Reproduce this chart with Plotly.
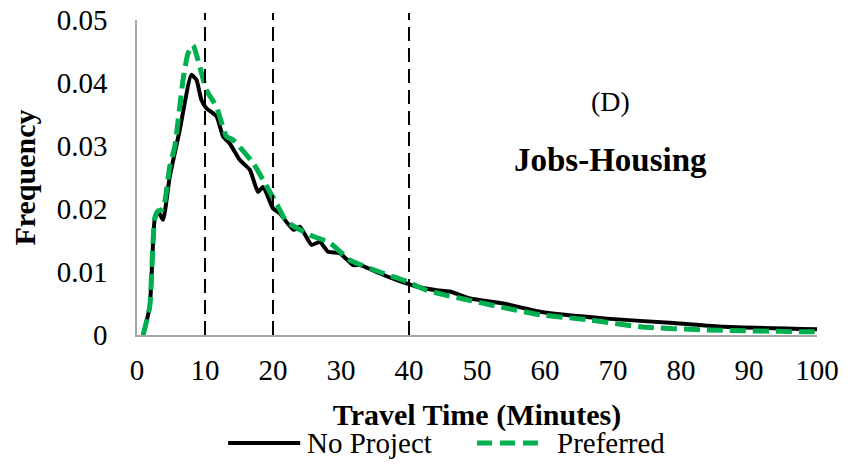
import plotly.graph_objects as go

# Travel time (minutes) and frequency, No Project
np_x = [0.9, 1.87, 2.6, 3.1, 3.83, 4.81, 6.28, 8.0, 8.74, 9.48, 10.2, 11.7, 12.66, 13.64,
        15.1, 16.6, 17.8, 18.55, 20.0, 21.0, 23.0, 23.95, 25.67, 26.9, 28.1, 29.8, 31.8,
        32.8, 35.2, 38.2, 39.65, 41.1, 44.1, 46.0, 49.0, 53.9, 59.3, 69.1, 78.9, 86.3, 100]
np_y = [0.0, 0.0045, 0.0183, 0.0196, 0.0183, 0.0251, 0.0325, 0.0413, 0.0405, 0.0373, 0.036,
        0.0347, 0.0315, 0.0304, 0.0278, 0.0262, 0.0227, 0.0235, 0.0201, 0.0193, 0.0167,
        0.0172, 0.0143, 0.0148, 0.0132, 0.013, 0.0111, 0.0111, 0.01, 0.0087, 0.0082,
        0.0077, 0.0071, 0.0069, 0.0058, 0.005, 0.0037, 0.0026, 0.0019, 0.0013, 0.0009]

# Preferred
pr_x = [0.9, 1.87, 2.6, 3.1, 3.83, 4.81, 5.55, 6.77, 7.5, 8.24, 9.23, 10.2, 11.7, 13.16,
        14.1, 17.07, 18.55, 20.5, 22.0, 25.4, 28.4, 31.3, 36.2, 39.65, 42.6, 45.5, 48.5,
        51.9, 59.3, 66.6, 74.0, 83.8, 98.5, 100]
pr_y = [0.0, 0.0045, 0.0185, 0.0197, 0.02, 0.0267, 0.0299, 0.0405, 0.0447, 0.046, 0.0426,
        0.0389, 0.0362, 0.0315, 0.031, 0.0273, 0.0246, 0.0209, 0.018, 0.0159, 0.0146,
        0.0119, 0.0098, 0.0085, 0.0071, 0.0063, 0.0056, 0.0048, 0.0032, 0.0024, 0.0013,
        0.0008, 0.0005, 0.0005]

thresholds = [10, 20, 40]
x_ticks = [0, 10, 20, 30, 40, 50, 60, 70, 80, 90, 100]
y_ticks = [0, 0.01, 0.02, 0.03, 0.04, 0.05]
y_ticktext = ["0", "0.01", "0.02", "0.03", "0.04", "0.05"]

FONT = "Liberation Serif"
GREEN = "#00B050"

fig = go.Figure()
fig.add_trace(go.Scatter(x=np_x, y=np_y, mode="lines", name="No Project",
                         line=dict(color="black", width=4, shape="spline", smoothing=0.5),
                         cliponaxis=False, showlegend=False))
fig.add_trace(go.Scatter(x=pr_x, y=pr_y, mode="lines", name="Preferred",
                         line=dict(color=GREEN, width=5, dash="16px,7px", shape="spline", smoothing=0.5),
                         cliponaxis=False, showlegend=False))

for t in thresholds:
    fig.add_shape(type="line", xref="x", yref="paper", x0=t, x1=t, y0=0, y1=1.022,
                  line=dict(color="black", width=2, dash="14px,7px"))

# manual legend
LEG_Y = -0.343
fig.add_shape(type="line", xref="paper", yref="paper", x0=0.134, x1=0.24, y0=LEG_Y, y1=LEG_Y,
              line=dict(color="black", width=4))
fig.add_shape(type="line", xref="paper", yref="paper", x0=0.50, x1=0.593, y0=LEG_Y, y1=LEG_Y,
              line=dict(color=GREEN, width=5, dash="15px,8px"))
fig.add_annotation(text="No Project", xref="paper", yref="paper", x=0.247, y=LEG_Y,
                   xanchor="left", yanchor="middle", showarrow=False,
                   font=dict(family=FONT, size=29, color="black"))
fig.add_annotation(text="Preferred", xref="paper", yref="paper", x=0.615, y=LEG_Y,
                   xanchor="left", yanchor="middle", showarrow=False,
                   font=dict(family=FONT, size=29, color="black"))

fig.add_annotation(text="(D)", x=69.6, y=0.037, showarrow=False,
                   font=dict(family=FONT, size=28, color="black"))
fig.add_annotation(text="<b>Jobs-Housing</b>", x=69.6, y=0.0278, showarrow=False,
                   font=dict(family=FONT, size=33, color="black"))

fig.update_layout(
    width=853, height=465,
    margin=dict(l=137, r=36, t=20, b=130),
    plot_bgcolor="white", paper_bgcolor="white",
    font=dict(family=FONT, size=29, color="black"),
    xaxis=dict(range=[0, 100], tickvals=x_ticks, showline=True, linecolor="#A6A6A6",
               linewidth=1.5, showgrid=False, zeroline=False, ticks="", automargin=False,
               ticklabelstandoff=8, tickfont=dict(size=29), ticklabeloverflow="allow",
               title=dict(text="<b>Travel Time (Minutes)</b>", standoff=19,
                          font=dict(family=FONT, size=30))),
    yaxis=dict(range=[0, 0.05], tickvals=y_ticks, ticktext=y_ticktext, showline=True,
               linecolor="#A6A6A6", linewidth=1.5, showgrid=False, zeroline=False, ticks="",
               automargin=False, ticklabelstandoff=22, tickfont=dict(size=29),
               ticklabeloverflow="allow",
               title=dict(text="<b>Frequency</b>", standoff=12,
                          font=dict(family=FONT, size=30))),
)

fig.write_html("out.html", config={"displayModeBar": False},
               post_script="document.body.style.margin='0';document.body.style.padding='0';")
